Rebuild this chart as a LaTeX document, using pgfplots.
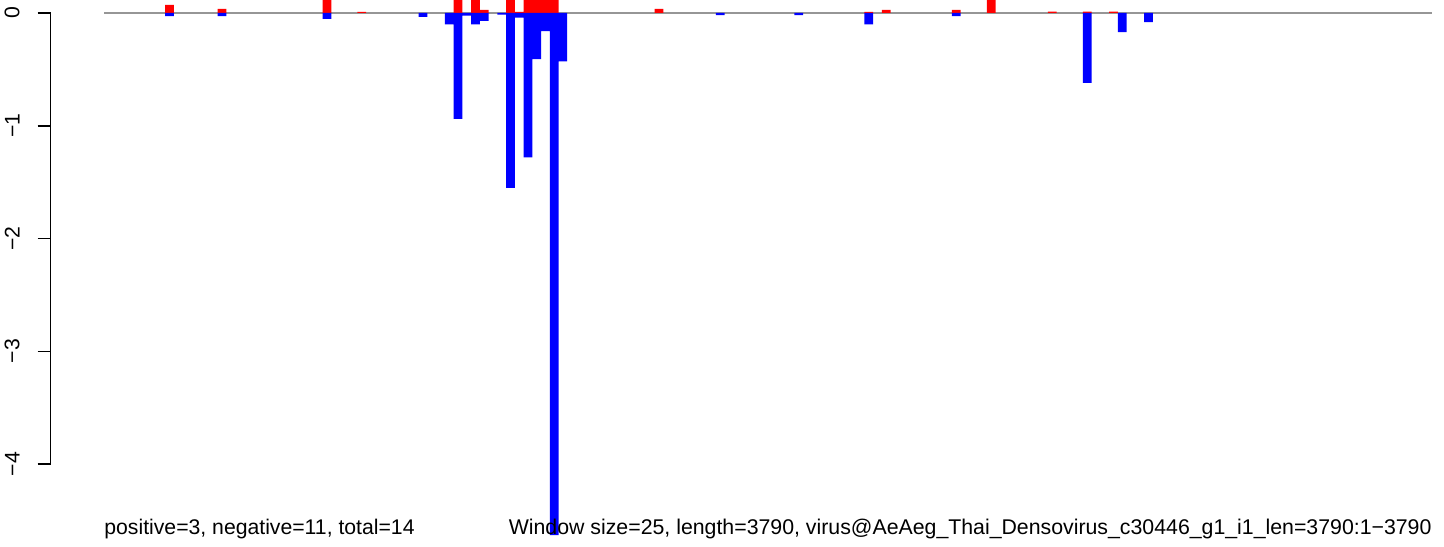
\documentclass[border=0pt]{standalone}
\usepackage{pgfplots}
\pgfplotsset{compat=1.18}
\usepackage{fontspec}
\setmainfont{Liberation Sans}
\definecolor{zeroline}{RGB}{150,150,150}
\begin{document}
\begin{tikzpicture}
\useasboundingbox (-25.35pt,0) rectangle (696.65pt,273pt);
\begin{axis}[
  at={(0,0)}, anchor=south west,
  scale only axis, width=690.65pt, height=273pt,
  xmin=-152.5, xmax=3798.6,
  ymin=-4.727, ymax=0.1153,
  axis line style={draw=none},
  xtick=\empty,
  ytick={-4,-3,-2,-1,0},
  yticklabels={−4,−3,−2,−1,0},
  ytick pos=left,
  tick align=outside,
  major tick length=6.5pt,
  tick style={black, line width=0.75pt},
  yticklabel style={rotate=90, anchor=south, inner sep=0pt, font=\fontsize{10.6}{12}\selectfont},
  yticklabel shift=8.85pt,
  clip mode=individual,
]
\addplot[draw=zeroline, line width=0.8pt, forget plot] coordinates {(0,0) (3798.6,0)};
\addplot[ybar, bar width=25, bar shift=0pt, fill=red, draw=none] coordinates {
(187.5,0.071) (337.5,0.036) (637.5,0.5) (737.5,0.009) (1012.5,0.5) (1062.5,0.5)
(1087.5,0.027) (1162.5,0.5) (1187.5,0.01) (1212.5,0.5) (1237.5,0.5) (1262.5,0.5)
(1287.5,0.5) (1587.5,0.036) (2187.5,0.009) (2237.5,0.027) (2437.5,0.027)
(2537.5,0.5) (2712.5,0.012) (2812.5,0.012) (2887.5,0.012)
};
\addplot[ybar, bar width=25, bar shift=0pt, fill=blue, draw=none] coordinates {
(187.5,-0.027) (337.5,-0.027) (637.5,-0.053) (912.5,-0.035) (987.5,-0.10)
(1012.5,-0.94) (1037.5,-0.024) (1062.5,-0.10) (1087.5,-0.07) (1137.5,-0.015)
(1162.5,-1.55) (1187.5,-0.04) (1212.5,-1.28) (1237.5,-0.41) (1262.5,-0.16)
(1287.5,-4.63) (1312.5,-0.43) (1762.5,-0.018) (1987.5,-0.018) (2187.5,-0.10)
(2437.5,-0.027) (2812.5,-0.62) (2912.5,-0.17) (2987.5,-0.08)
};
\draw[black, line width=0.75pt] (axis cs:-152.5,0) -- (axis cs:-152.5,-4);
\node[anchor=base west, inner sep=0pt, font=\fontsize{10.6}{12}\selectfont] at (axis cs:0,-4.621) {positive=3, negative=11, total=14};
\node[anchor=base east, inner sep=0pt, font=\fontsize{10.65}{12}\selectfont] at (axis cs:3798.6,-4.621) {Window size=25, length=3790, virus@AeAeg\_Thai\_Densovirus\_c30446\_g1\_i1\_len=3790:1−3790};
\end{axis}
\end{tikzpicture}
\end{document}
